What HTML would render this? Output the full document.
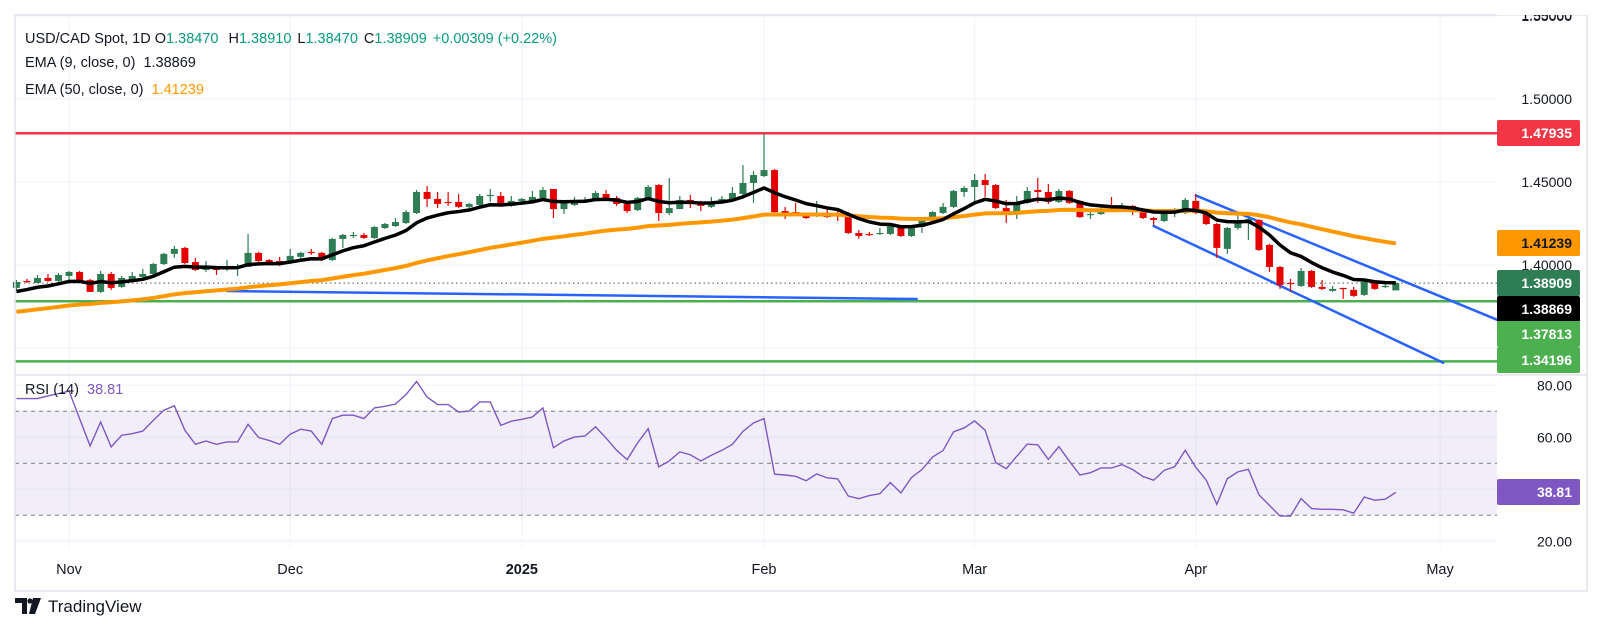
<!DOCTYPE html>
<html><head><meta charset="utf-8">
<style>
html,body{margin:0;padding:0;background:#fff;}
body{width:1602px;height:644px;overflow:hidden;font-family:"Liberation Sans",sans-serif;}
svg{display:block;}
</style></head>
<body>
<svg id="chart" width="1602" height="644" viewBox="0 0 1602 644" xmlns="http://www.w3.org/2000/svg" font-family="Liberation Sans, sans-serif">
  <rect x="0" y="0" width="1602" height="644" fill="#fff"/>
  <g id="grid"></g>
  <rect x="15" y="411" width="1482" height="104" fill="#7e57c2" fill-opacity="0.1"/>
  <g id="rsiLevels"></g>
  <g id="lines"></g>
  <g id="candles"></g>
  <g id="emas"></g>
  <g id="rsi"></g>
  <!-- frame -->
  <rect x="15" y="15" width="1572" height="576" fill="none" stroke="#e0e3eb" stroke-width="1.5"/>
  <line x1="15" y1="375" x2="1587" y2="375" stroke="#e0e3eb" stroke-width="1.5"/>
  <line x1="15" y1="540" x2="1497" y2="540" stroke="#f0f3fa" stroke-width="1"/>
  <g id="axis"></g>
  <g id="xaxis"></g>
  <!-- legend -->
  <g font-size="14.5" fill="#131722">
    <text x="25" y="43">USD/CAD Spot, 1D <tspan fill="#131722">O</tspan><tspan fill="#089981">1.38470</tspan>  <tspan fill="#131722" dx="6">H</tspan><tspan fill="#089981">1.38910</tspan><tspan dx="6">L</tspan><tspan fill="#089981">1.38470</tspan><tspan dx="6">C</tspan><tspan fill="#089981">1.38909</tspan><tspan dx="6" fill="#089981">+0.00309 (+0.22%)</tspan></text>
    <text x="25" y="67">EMA (9, close, 0) <tspan dx="4" fill="#131722">1.38869</tspan></text>
    <text x="25" y="94">EMA (50, close, 0) <tspan dx="4" fill="#ff9800">1.41239</tspan></text>
    <text x="25" y="394">RSI (14) <tspan dx="4" fill="#7e57c2">38.81</tspan></text>
  </g>
  <g>
    <path d="M15 598h12v16h-5v-11h-7z" fill="#131722"/>
    <circle cx="30" cy="601" r="2.6" fill="#131722"/>
    <path d="M33 598h8l-6 16h-6z" fill="#131722"/>
    <text x="48" y="612" font-size="17" fill="#131722">TradingView</text>
  </g>
</svg>
<script>
// ---- data (bar index starts at Oct 25, 2024) ----
const openP=[1.3862,1.3904,1.3892,1.3922,1.3904,1.3934,1.3958,1.3910,1.3838,1.3946,1.3868,1.3910,1.3928,1.3946,1.4006,1.4067,1.4103,1.4018,1.3970,1.3988,1.3976,1.3982,1.3988,1.4073,1.4030,1.4024,1.4012,1.4049,1.4079,1.4073,1.4030,1.4157,1.4175,1.4181,1.4163,1.4223,1.4235,1.4253,1.4313,1.4440,1.4398,1.4380,1.4380,1.4350,1.4362,1.4416,1.4416,1.4356,1.4386,1.4380,1.4404,1.4458,1.4337,1.4362,1.4386,1.4392,1.4428,1.4404,1.4368,1.4331,1.4404,1.4482,1.4313,1.4337,1.4392,1.4380,1.4350,1.4374,1.4398,1.4428,1.4494,1.4536,1.4572,1.4325,1.4319,1.4307,1.4295,1.4313,1.4301,1.4289,1.4193,1.4187,1.4187,1.4187,1.4235,1.4175,1.4229,1.4271,1.4313,1.4350,1.4440,1.4470,1.4512,1.4482,1.4343,1.4307,1.4374,1.4452,1.4440,1.4380,1.4446,1.4386,1.4301,1.4307,1.4337,1.4325,1.4356,1.4325,1.4283,1.4265,1.4313,1.4313,1.4386,1.4313,1.4247,1.4097,1.4223,1.4253,1.4271,1.4121,1.3988,1.3892,1.3874,1.3964,1.3868,1.3844,1.3862,1.3850,1.3820,1.3892,1.3868,1.3847];
const highP=[1.3910,1.3916,1.3940,1.3946,1.3952,1.3964,1.3964,1.3916,1.3964,1.3958,1.3934,1.3958,1.3976,1.4012,1.4073,1.4115,1.4109,1.4043,1.4024,1.3994,1.4030,1.4006,1.4187,1.4079,1.4036,1.4049,1.4097,1.4079,1.4097,1.4079,1.4163,1.4187,1.4199,1.4193,1.4235,1.4253,1.4283,1.4331,1.4452,1.4476,1.4440,1.4440,1.4428,1.4374,1.4428,1.4458,1.4440,1.4416,1.4404,1.4446,1.4470,1.4458,1.4380,1.4410,1.4410,1.4446,1.4452,1.4416,1.4374,1.4410,1.4482,1.4488,1.4524,1.4416,1.4422,1.4386,1.4410,1.4416,1.4470,1.4602,1.4566,1.4795,1.4578,1.4350,1.4374,1.4313,1.4386,1.4337,1.4343,1.4319,1.4211,1.4199,1.4223,1.4247,1.4241,1.4241,1.4277,1.4325,1.4374,1.4452,1.4476,1.4548,1.4548,1.4488,1.4392,1.4416,1.4470,1.4524,1.4488,1.4458,1.4452,1.4392,1.4319,1.4350,1.4410,1.4374,1.4362,1.4331,1.4289,1.4319,1.4343,1.4404,1.4428,1.4331,1.4253,1.4229,1.4301,1.4283,1.4277,1.4127,1.3994,1.3916,1.3982,1.3970,1.3910,1.3874,1.3862,1.3868,1.3910,1.3898,1.3886,1.3891];
const lowP=[1.3850,1.3892,1.3892,1.3898,1.3898,1.3910,1.3892,1.3838,1.3832,1.3850,1.3862,1.3904,1.3922,1.3940,1.4000,1.4043,1.4006,1.3964,1.3958,1.3940,1.3964,1.3934,1.3988,1.4018,1.4006,1.3994,1.4006,1.4018,1.4061,1.4024,1.4024,1.4103,1.4163,1.4157,1.4157,1.4217,1.4229,1.4247,1.4307,1.4350,1.4343,1.4356,1.4343,1.4343,1.4356,1.4380,1.4350,1.4350,1.4380,1.4374,1.4398,1.4283,1.4307,1.4356,1.4374,1.4386,1.4398,1.4356,1.4313,1.4325,1.4398,1.4265,1.4301,1.4337,1.4343,1.4325,1.4343,1.4368,1.4392,1.4398,1.4374,1.4530,1.4313,1.4277,1.4307,1.4277,1.4289,1.4283,1.4265,1.4187,1.4157,1.4175,1.4181,1.4181,1.4169,1.4169,1.4193,1.4265,1.4307,1.4343,1.4410,1.4380,1.4410,1.4337,1.4253,1.4277,1.4368,1.4374,1.4368,1.4374,1.4368,1.4283,1.4277,1.4301,1.4319,1.4319,1.4301,1.4277,1.4241,1.4259,1.4289,1.4307,1.4307,1.4241,1.4043,1.4067,1.4211,1.4151,1.4085,1.3958,1.3856,1.3838,1.3868,1.3862,1.3850,1.3838,1.3796,1.3808,1.3814,1.3850,1.3862,1.3847];
const closeP=[1.3898,1.3898,1.3922,1.3904,1.3940,1.3958,1.3904,1.3838,1.3946,1.3862,1.3922,1.3934,1.3946,1.4006,1.4067,1.4097,1.4012,1.3970,1.3988,1.3970,1.3982,1.3988,1.4073,1.4024,1.4018,1.4006,1.4055,1.4073,1.4073,1.4036,1.4157,1.4181,1.4181,1.4163,1.4229,1.4247,1.4259,1.4319,1.4440,1.4398,1.4368,1.4374,1.4350,1.4368,1.4416,1.4422,1.4356,1.4386,1.4398,1.4410,1.4452,1.4337,1.4374,1.4386,1.4392,1.4434,1.4404,1.4368,1.4325,1.4404,1.4470,1.4313,1.4343,1.4392,1.4374,1.4356,1.4380,1.4398,1.4434,1.4494,1.4542,1.4572,1.4319,1.4316,1.4313,1.4283,1.4307,1.4289,1.4295,1.4193,1.4175,1.4181,1.4193,1.4235,1.4175,1.4235,1.4271,1.4319,1.4350,1.4446,1.4464,1.4512,1.4482,1.4343,1.4307,1.4374,1.4446,1.4440,1.4380,1.4446,1.4374,1.4289,1.4307,1.4331,1.4331,1.4343,1.4319,1.4283,1.4271,1.4313,1.4319,1.4392,1.4313,1.4247,1.4103,1.4223,1.4253,1.4277,1.4091,1.3988,1.3880,1.3886,1.3964,1.3868,1.3856,1.3856,1.3856,1.3814,1.3898,1.3856,1.3874,1.38909];
const rsiV=[74.9,74.9,74.9,75.9,76.8,77.8,67.2,56.7,65.9,56.3,60.8,61.4,62.4,66.5,70.4,72.1,62.7,57.3,58.6,57.3,58.2,58.2,65.0,59.9,58.8,57.3,61.2,63.1,62.4,57.3,67.2,68.5,68.5,67.2,71.3,71.9,72.8,76.4,81.5,75.5,72.6,72.6,69.7,70.1,73.6,73.6,64.6,66.2,66.9,67.8,71.3,56.0,58.6,60.1,60.5,64.0,59.7,55.0,51.4,57.9,63.3,48.6,50.9,54.4,53.3,50.9,53.1,55.0,57.3,62.3,65.5,67.2,
45.8,45.5,45.0,43.3,45.9,44.4,44.0,37.4,36.4,37.6,38.3,42.6,38.6,44.5,47.6,52.4,54.9,62.1,63.6,66.3,62.7,50.3,47.9,52.7,57.4,57.1,51.5,56.4,50.8,45.5,46.4,48.2,48.2,49.5,47.6,44.9,43.5,47.3,48.7,55.0,48.5,43.5,34.2,44.1,46.7,47.7,37.9,33.8,29.7,29.7,36.4,32.6,32.3,32.3,32.1,30.8,37.0,35.8,36.2,38.81];
const ema9Seed=1.3826;
const ema50Seed=1.3711;
const priceTicks=[1.55,1.50,1.45,1.40,1.35];
const rsiTicks=[80,60,40,20];
const rsiDashed=[70,50,30];
const monthLabels=["Nov","Dec","2025","Feb","Mar","Apr","May"];
const monthBars=[5,26,48,71,91,112,135.2];
const hLevels=[1.47935,1.37813,1.34196];
const hColors=["#f23645","#4caf50","#4caf50"];
const trendFlat=[[20,1.3843],[85.5,1.3795]];
const chanUpper=[[112,1.4419],[142.3,1.3626]];
const chanLower=[[108,1.4235],[135.5,1.3411]];

// ---- scales ----
const NS="http://www.w3.org/2000/svg";
const X0=16.4, DX=10.53, PLOT_R=1497;
function xS(i){return X0+i*DX;}
function yP(p){return 182+(1.45-p)*1660;}
function yR(v){return 463.3-(v-50)*2.6;}
function mk(tag,attrs,parent){const e=document.createElementNS(NS,tag);for(const k in attrs)e.setAttribute(k,attrs[k]);parent.appendChild(e);return e;}

// grid
const grid=document.getElementById('grid');
priceTicks.forEach(t=>{const l=mk('line',{x1:15,x2:PLOT_R,y1:yP(t),y2:yP(t),stroke:'#f0f3fa','stroke-width':1},grid);

});
rsiTicks.forEach(t=>{const l=mk('line',{x1:15,x2:PLOT_R,y1:yR(t),y2:yR(t),stroke:'#f0f3fa','stroke-width':1},grid);

});
monthBars.forEach(b=>{const l=mk('line',{x1:xS(b),x2:xS(b),y1:15,y2:548,stroke:'#f0f3fa','stroke-width':1},grid);

});
const rl=document.getElementById('rsiLevels');
rsiDashed.forEach(v=>{const l=mk('line',{x1:15,x2:PLOT_R,y1:yR(v),y2:yR(v),stroke:'#787b86','stroke-width':1,'stroke-dasharray':'4 4'},rl);

});

// drawings
const ln=document.getElementById('lines');
hLevels.forEach((p,k)=>{const l=mk('line',{x1:15,x2:PLOT_R,y1:yP(p),y2:yP(p),stroke:hColors[k],'stroke-width':2.5},ln);

});
const cur=mk('line',{x1:15,x2:PLOT_R,y1:yP(closeP[closeP.length-1]),y2:yP(closeP[closeP.length-1]),stroke:'#4a5a55','stroke-width':1,'stroke-dasharray':'1.5 3'},ln);


[trendFlat,chanUpper,chanLower].forEach((seg,k)=>{const l=mk('line',{x1:xS(seg[0][0]),y1:yP(seg[0][1]),x2:xS(seg[1][0]),y2:yP(seg[1][1]),stroke:'#2962ff','stroke-width':2.5,'stroke-linecap':'round'},ln);

});

// candles
const cg=document.getElementById('candles');
for(let i=0;i<closeP.length;i++){
  const up=closeP[i]>=openP[i];const col=up?'#2e7d55':'#e50000';const x=xS(i);
  const w=mk('line',{x1:x,x2:x,y1:yP(highP[i]),y2:yP(lowP[i]),stroke:col,'stroke-width':1.2},cg);
  
  
  const yt=yP(Math.max(openP[i],closeP[i])),yb=yP(Math.min(openP[i],closeP[i]));
  const b=mk('rect',{x:x-3.5,y:yt,width:7,height:Math.max(1.2,yb-yt),fill:col},cg);
  
  
}
// EMAs
function ema(seed,n){const k=2/(n+1);let e=seed;return closeP.map(c=>(e=c*k+e*(1-k)));}
const eg=document.getElementById('emas');
[[ema(ema50Seed,50),'#ff9800',4,'ema-50-line'],[ema(ema9Seed,9),'#000',3.5,'ema-9-line']].forEach(([arr,col,w,nm])=>{
  const p=mk('polyline',{points:arr.map((v,i)=>xS(i)+','+yP(v)).join(' '),fill:'none',stroke:col,'stroke-width':w,'stroke-linejoin':'round'},eg);
  
  
});
// RSI
const rg=document.getElementById('rsi');
const rp=mk('polyline',{points:rsiV.map((v,i)=>xS(i)+','+yR(v)).join(' '),fill:'none',stroke:'#7e57c2','stroke-width':1.4},rg);



// price axis
const ax=document.getElementById('axis');
priceTicks.forEach(t=>{const y=yP(t);if(y<10)return;const tx=mk('text',{x:1572,y:y+5,'text-anchor':'end','font-size':14,fill:'#131722'},ax);tx.textContent=t.toFixed(5);

});
const topT=mk('text',{x:1572,y:20,'text-anchor':'end','font-size':14,fill:'#131722'},ax);topT.textContent='1.55000';


mk('rect',{x:1497,y:0,width:90,height:15,fill:'#fff'},ax);
rsiTicks.forEach(t=>{const tx=mk('text',{x:1572,y:yR(t)+5,'text-anchor':'end','font-size':14,fill:'#131722'},ax);tx.textContent=t.toFixed(2);

});
const boxVals=[1.47935,1.41239,1.38909,1.38869,1.37813,1.34196];
const boxCols=['#f23645','#ff9800','#2e7d55','#000000','#4caf50','#4caf50'];
const boxTxt=['#fff','#131722','#fff','#fff','#fff','#fff'];
const boxY=[120,230,270,296,321,347];
boxVals.forEach((v,k)=>{const r=mk('rect',{x:1497,y:boxY[k],width:83,height:26,rx:2,fill:boxCols[k]},ax);


const tx=mk('text',{x:1572,y:boxY[k]+18,'text-anchor':'end','font-size':14,'font-weight':'bold',fill:boxTxt[k]},ax);tx.textContent=v.toFixed(5);

});
const rb=mk('rect',{x:1497,y:479,width:83,height:26,rx:2,fill:'#7e57c2'},ax);


const rt=mk('text',{x:1572,y:497,'text-anchor':'end','font-size':14,'font-weight':'bold',fill:'#fff'},ax);rt.textContent='38.81';



// time axis
const xa=document.getElementById('xaxis');
monthLabels.forEach((m,k)=>{const tx=mk('text',{x:xS(monthBars[k]),y:574,'text-anchor':'middle','font-size':14.5,fill:'#131722','font-weight':m==='2025'?'bold':'normal'},xa);tx.textContent=m;

});
</script>
</body></html>
